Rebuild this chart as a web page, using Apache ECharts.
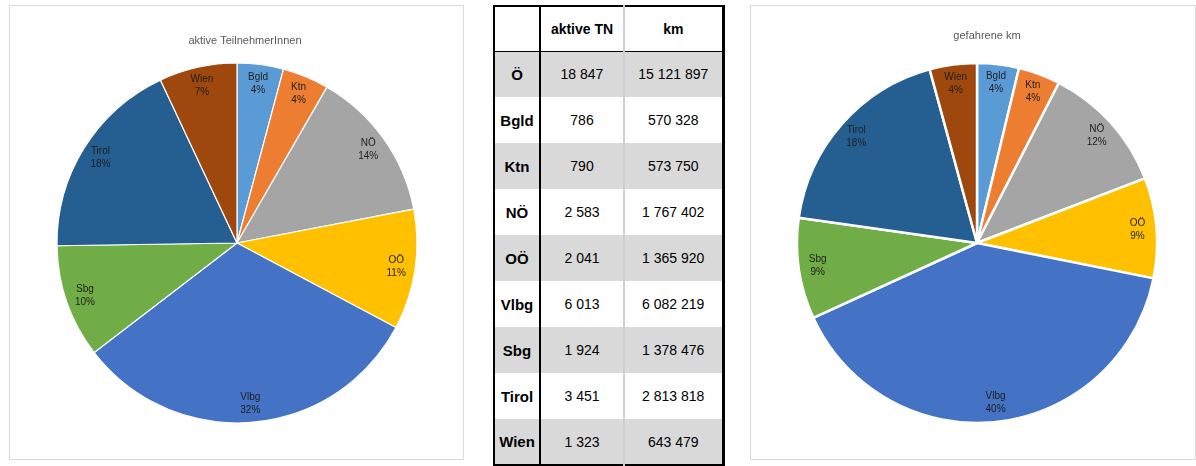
<!DOCTYPE html>
<html lang="de">
<head>
<meta charset="UTF-8">
<title>Teilnehmer und km</title>
<script src="https://cdn.jsdelivr.net/npm/echarts@6/dist/echarts.min.js"></script>
<style>
  html, body { margin: 0; padding: 0; background: #fff; }
  body { width: 1196px; height: 466px; position: relative; overflow: hidden; font-family: "Liberation Sans", Arial, sans-serif; }
  .panel { position: absolute; box-sizing: border-box; border: 1px solid #d9d9d9; }
  #main { position: absolute; left: 0; top: 0; width: 1196px; height: 466px; }
  #tbl { position: absolute; left: 493px; top: 5px; border-collapse: collapse; table-layout: fixed; color: #000; }
  #tbl td { padding: 0; text-align: center; font-size: 14px; height: 46px; box-sizing: border-box; }
  #tbl td.lab { font-weight: bold; font-size: 15px; border-right: 2px solid #000; }
  #tbl td.c2 { border-right: 2px solid #d0d0d0; }
  #tbl tr.head td { height: 45px; font-weight: bold; font-size: 14px; border-bottom: 1px solid #000; }
  #tbl tr.grey td { background: #d9d9d9; }
</style>
</head>
<body>
<div class="panel" style="left:9px;top:5px;width:455px;height:455px;"></div>
<div class="panel" style="left:750px;top:5px;width:446px;height:455px;"></div>
<table id="tbl" style="border-left:2px solid #000;border-right:3px solid #000;border-top:2px solid #000;border-bottom:2px solid #000;">
  <colgroup><col style="width:46px"><col style="width:84px"><col style="width:99px"></colgroup>
  <tbody id="tbody"></tbody>
</table>
<div id="main"></div>
<script>
  // Daten
  const regions = ['Bgld', 'Ktn', 'NÖ', 'OÖ', 'Vlbg', 'Sbg', 'Tirol', 'Wien'];
  const aktiveTN = [786, 790, 2583, 2041, 6013, 1924, 3451, 1323];
  const km = [570328, 573750, 1767402, 1365920, 6082219, 1378476, 2813818, 643479];
  const totalName = 'Ö';
  const totalTN = 18847;
  const totalKm = 15121897;
  const headers = ['', 'aktive TN', 'km'];
  const colors = ['#5B9BD5', '#ED7D31', '#A5A5A5', '#FFC000', '#4472C4', '#70AD47', '#255E91', '#9E480E'];

  function fmt(n) {
    return String(n).replace(/\B(?=(\d{3})+(?!\d))/g, ' ');
  }

  // Tabelle
  let rows = '<tr class="head"><td class="lab">' + headers[0] + '</td><td class="c2">' + headers[1] + '</td><td>' + headers[2] + '</td></tr>';
  let allNames = [totalName].concat(regions);
  let allTN = [totalTN].concat(aktiveTN);
  let allKm = [totalKm].concat(km);
  allNames.forEach(function(name, i) {
    rows += '<tr class="' + (i % 2 == 0 ? 'grey' : '') + '"><td class="lab">' + name + '</td><td class="c2">' + fmt(allTN[i]) + '</td><td>' + fmt(allKm[i]) + '</td></tr>';
  });
  document.getElementById('tbody').innerHTML = rows;

  // Diagramme
  let myChart = echarts.init(document.getElementById('main'));

  function pieData(values) {
    return regions.map(function(name, i) {
      return { name: name, value: values[i], itemStyle: { color: colors[i] } };
    });
  }

  function labelData(values) {
    return regions.map(function(name, i) {
      return { name: name, value: values[i] };
    });
  }

  function pieSeries(values, center, borderW) {
    return [{
      type: 'pie',
      center: center,
      radius: [0, 180],
      startAngle: 90,
      clockwise: true,
      silent: true,
      animation: false,
      data: pieData(values),
      itemStyle: { borderColor: '#fff', borderWidth: borderW },
      label: { show: false },
      labelLine: { show: false }
    }, {
      // nur Beschriftung, Ring nahe am Rand
      type: 'pie',
      center: center,
      radius: [136, 180],
      startAngle: 90,
      clockwise: true,
      silent: true,
      animation: false,
      percentPrecision: 0,
      data: labelData(values),
      itemStyle: { color: 'transparent', borderWidth: 0 },
      label: {
        show: true,
        position: 'inside',
        formatter: '{b}\n{d}%',
        color: '#1e1e1e',
        fontSize: 10,
        lineHeight: 13,
        fontFamily: 'Liberation Sans'
      },
      labelLine: { show: false }
    }];
  }

  myChart.setOption({
    animation: false,
    title: [{
      text: 'aktive TeilnehmerInnen',
      left: 240,
      top: 30,
      textAlign: 'center',
      textStyle: { fontSize: 11, fontWeight: 'normal', color: '#595959', fontFamily: 'Liberation Sans' }
    }, {
      text: 'gefahrene km',
      left: 982,
      top: 25,
      textAlign: 'center',
      textStyle: { fontSize: 11, fontWeight: 'normal', color: '#595959', fontFamily: 'Liberation Sans' }
    }],
    series: pieSeries(aktiveTN, [237, 243], 1.2).concat(pieSeries(km, [977, 243], 2.5))
  });
</script>
</body>
</html>
